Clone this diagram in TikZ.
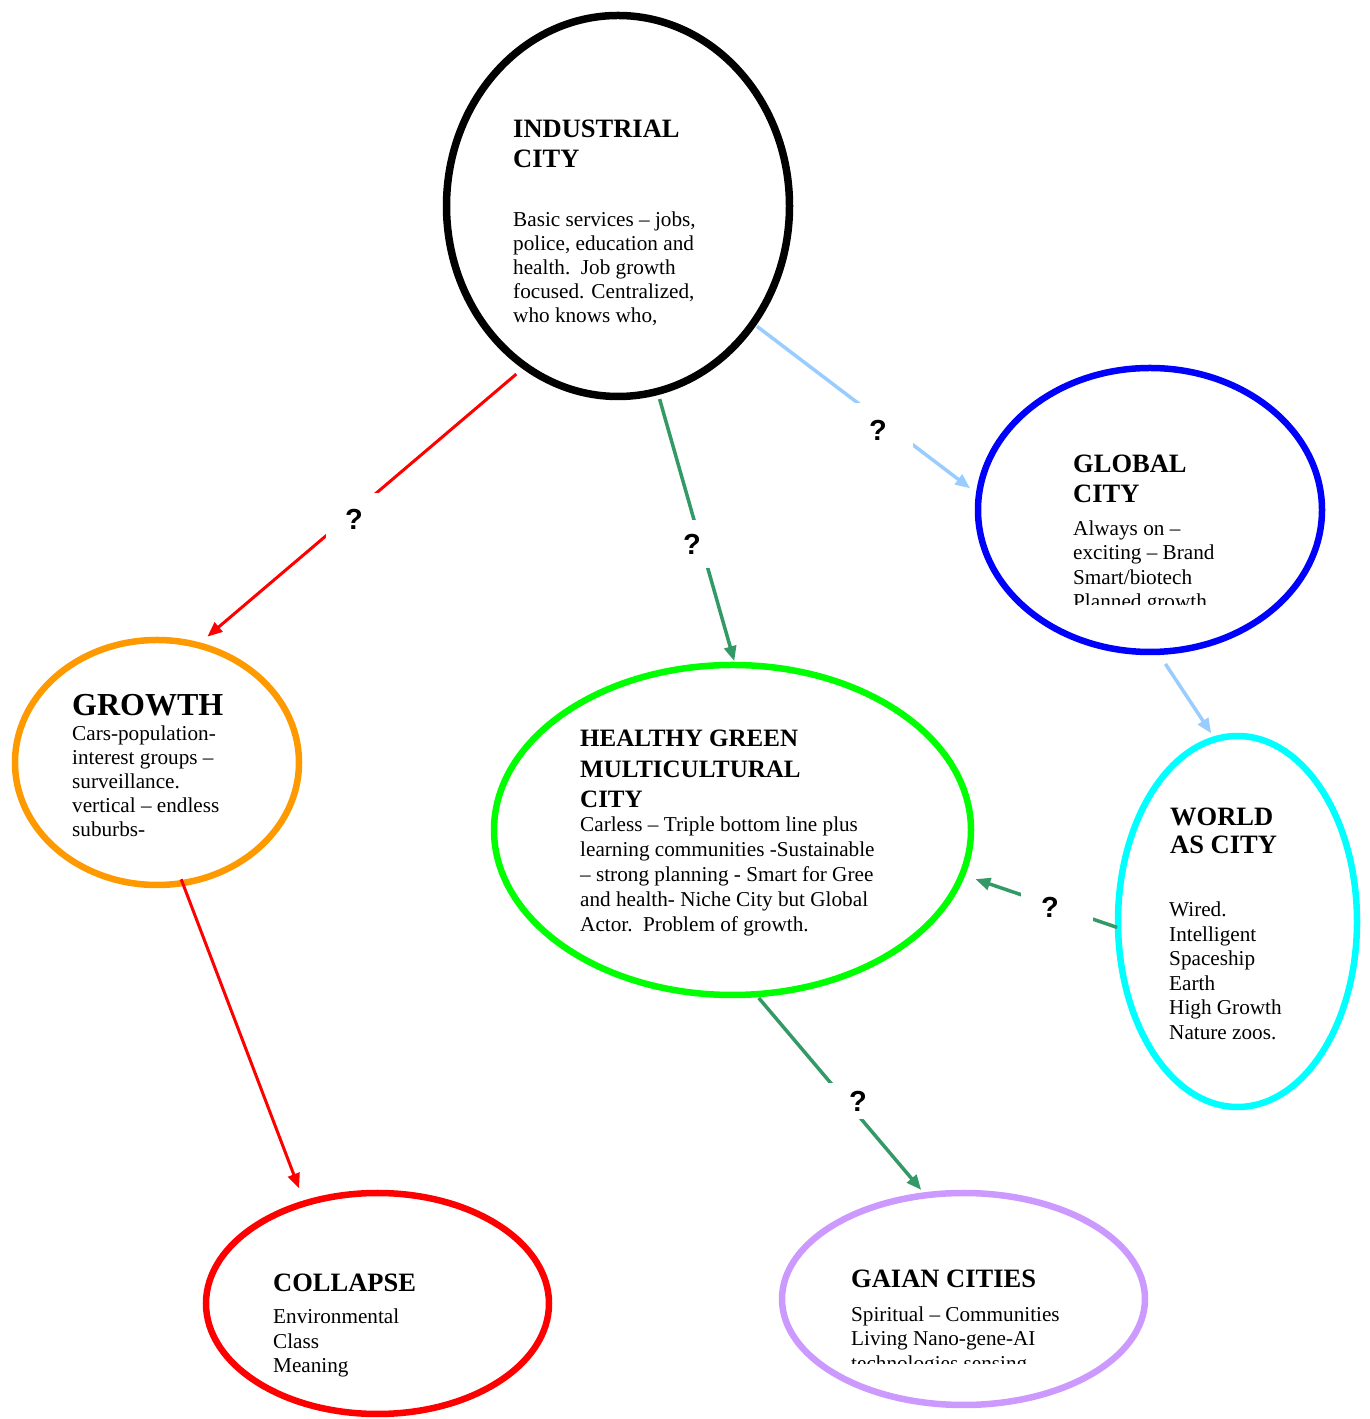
\documentclass[tikz,border=0pt]{standalone}
\usepackage{fontspec}
\setmainfont{Liberation Serif}
\newfontfamily\qfont{Liberation Sans}
\usetikzlibrary{arrows.meta,shapes.geometric}
\definecolor{cOrange}{RGB}{255,153,0}
\definecolor{cGreen}{RGB}{0,255,0}
\definecolor{cCyan}{RGB}{0,255,255}
\definecolor{cBlue}{RGB}{0,0,255}
\definecolor{cRed}{RGB}{255,0,0}
\definecolor{cLav}{RGB}{204,153,255}
\definecolor{cSea}{RGB}{51,153,102}
\definecolor{cLBlue}{RGB}{153,204,255}
\begin{document}
\begin{tikzpicture}[x=1pt,y=1pt,
  city/.style={ellipse, draw, line width=6.5pt, inner sep=0pt, outer sep=0pt},
  conn/.style={line width=3.5pt, -{Triangle[length=15pt,width=12pt]}},
  redconn/.style={conn, draw=cRed, line width=3pt},
  seaconn/.style={conn, draw=cSea, fill=cSea},
  blueconn/.style={conn, draw=cLBlue, fill=cLBlue},
  qbox/.style={fill=white, inner sep=0pt, font=\qfont\bfseries\fontsize{29}{32}\selectfont},
  txt/.style={anchor=base west, align=left, inner sep=0pt, font=\fontsize{21.2}{24.3}\selectfont},
  ttl/.style={anchor=base west, align=left, inner sep=0pt, font=\bfseries\fontsize{26.5}{30}\selectfont}
]
\useasboundingbox (0,0) rectangle (1370,1419);

% city ellipses
\node[city, draw=black, line width=7.5pt, minimum width=343pt, minimum height=381pt] (ind) at (618,1213) {};
\node[city, draw=cBlue, minimum width=344pt, minimum height=284pt] (glo) at (1150,909) {};
\node[city, draw=cOrange, minimum width=284pt, minimum height=245pt] (gro) at (157,656.5) {};
\node[city, draw=cGreen, minimum width=477pt, minimum height=330pt] (hea) at (732.5,589) {};
\node[city, draw=cCyan, minimum width=239pt, minimum height=371pt] (wor) at (1237.5,497.5) {};
\node[city, draw=cRed, minimum width=343pt, minimum height=221pt] (col) at (377.5,115.5) {};
\node[city, draw=cLav, minimum width=363pt, minimum height=212pt] (gai) at (963.5,120) {};

% connectors
\draw[redconn, fill=cRed, shorten <=12pt, shorten >=13pt] (ind.240) -- (gro.71);
\draw[seaconn, shorten <=8pt, shorten >=4pt] (ind.282) -- (hea.89);
\draw[blueconn, shorten <=5pt, shorten >=11pt] (ind.319) -- (glo.175);
\draw[blueconn, shorten <=14.5pt, shorten >=7pt] (glo.273) -- (wor.97);
\draw[seaconn, shorten <=1pt, shorten >=14pt] (wor.183) -- (hea.349);
\draw[seaconn, shorten <=5pt, shorten >=7pt] (hea.278) -- (gai.110);
\draw[redconn, fill=cRed, shorten <=-4pt, shorten >=16pt] (gro.282) -- (col.126);

% question marks
\node[qbox, minimum width=56pt, minimum height=52pt] (q1) at (354,900) {?};
\node[qbox, minimum width=44pt, minimum height=48pt] (q2) at (692,875) {?};
\node[qbox, minimum width=70pt, minimum height=53pt] (q3) at (878,989) {?};
\node[qbox, minimum width=72pt, minimum height=35pt] (q4) at (1057,511.5) {\hspace*{-14pt}?};
\node[qbox, minimum width=70pt, minimum height=36pt] (q5) at (850,318) {\hspace*{16pt}?};

% texts (anchor = baseline of the last line)
\node[ttl] (indT) at (513,1251) {INDUSTRIAL\\CITY};
\node[txt, font=\fontsize{21.2}{24}\selectfont] (indB) at (513,1096.5) {Basic services – jobs,\\police, education and\\health.\ \ Job growth\\focused. Centralized,\\who knows who,};

\node[ttl] (gloT) at (1073,916.5) {GLOBAL\\CITY};
\begin{scope}
\clip (1000,814) rectangle (1300,910);
\node[txt] (gloB) at (1073,810.4) {Always on –\\exciting – Brand\\Smart/biotech\\Planned growth};
\end{scope}

\node[ttl, font=\bfseries\fontsize{32}{36}\selectfont] (groT) at (72,703.5) {GROWTH};
\node[txt, font=\fontsize{21.2}{23.8}\selectfont] (groB) at (72,582.8) {Cars-population-\\interest groups –\\surveillance.\\vertical – endless\\suburbs-};

\node[ttl, font=\bfseries\fontsize{25}{30.5}\selectfont] (heaT) at (580,611) {HEALTHY GREEN\\MULTICULTURAL\\CITY};
\node[txt, font=\fontsize{21.2}{25}\selectfont] (heaB) at (580,487.5) {Carless – Triple bottom line plus\\learning communities -Sustainable\\– strong planning - Smart for Gree\\and health- Niche City but Global\\Actor.\ \ Problem of growth.};

\node[ttl, font=\bfseries\fontsize{26.5}{28.5}\selectfont] (worT) at (1170,565) {WORLD\\AS CITY};
\node[txt, font=\fontsize{21.2}{24.5}\selectfont] (worB) at (1169,379.8) {Wired.\\Intelligent\\Spaceship\\Earth\\High Growth\\Nature zoos.};

\node[ttl] (colT) at (273,127) {COLLAPSE};
\node[txt, font=\fontsize{21.2}{24.5}\selectfont] (colB) at (273,46) {Environmental\\Class\\Meaning};

\node[ttl] (gaiT) at (851,131) {GAIAN CITIES};
\begin{scope}
\clip (800,55) rectangle (1120,125);
\node[txt] (gaiB) at (851,48.7) {Spiritual – Communities\\Living Nano-gene-AI\\technologies sensing};
\end{scope}
\end{tikzpicture}
\end{document}
